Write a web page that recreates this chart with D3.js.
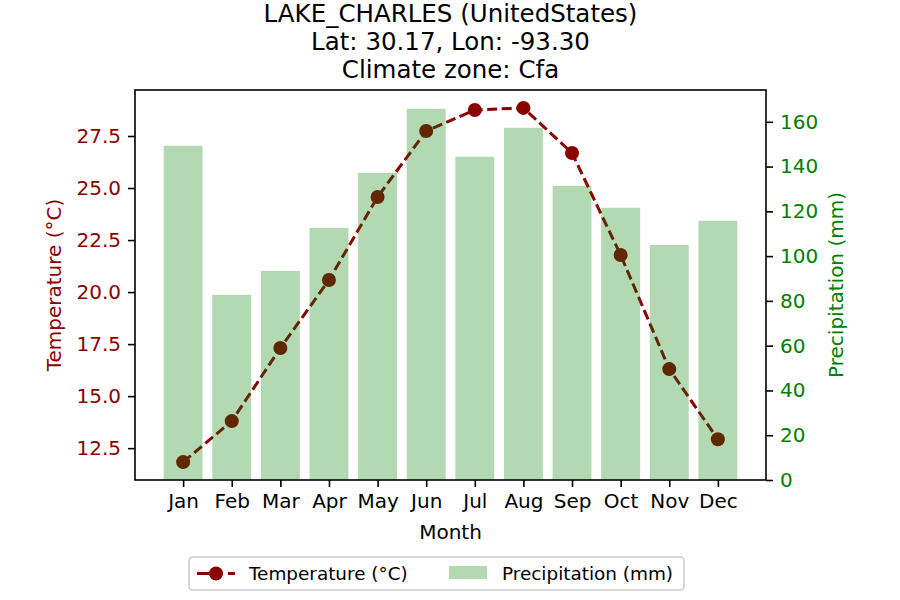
<!DOCTYPE html>
<html>
<head>
<meta charset="utf-8">
<script src="https://cdn.jsdelivr.net/npm/d3@7"></script>
<style>
  html, body { margin: 0; padding: 0; background: #fff; }
  svg { display: block; font-family: "DejaVu Sans", sans-serif; }
</style>
</head>
<body>
<svg id="chart" width="900" height="600"></svg>
<script>
const months = ["Jan","Feb","Mar","Apr","May","Jun","Jul","Aug","Sep","Oct","Nov","Dec"];
const temperature = [11.83, 13.80, 17.31, 20.58, 24.57, 27.74, 28.75, 28.85, 26.68, 21.78, 16.30, 12.93];
const precipitation = [149.3, 82.7, 93.4, 112.6, 137.2, 165.8, 144.4, 157.3, 131.4, 121.6, 105.0, 115.8];
const tempTicks = [12.5, 15.0, 17.5, 20.0, 22.5, 25.0, 27.5];
const precipTicks = [0, 20, 40, 60, 80, 100, 120, 140, 160];
const titleLines = ["LAKE_CHARLES (UnitedStates)", "Lat: 30.17, Lon: -93.30", "Climate zone: Cfa"];

const W = 900, H = 600;
const L = 135, R = 766, T = 90, B = 480;
const tempColor = "#8b0000", precColor = "#008000";

const svg = d3.select("#chart");

const x = d3.scaleLinear().domain([-0.99, 11.99]).range([L, R]);
const yT = d3.scaleLinear().domain([10.97, 29.71]).range([B, T]);
const yP = d3.scaleLinear().domain([0, 174.2]).range([B, T]);
const bw = x(0.8) - x(0);

// Temperature line (drawn first, bars overlay it)
const line = d3.line().x((d, i) => x(i)).y(d => yT(d));
svg.append("path")
  .attr("d", line(temperature))
  .attr("fill", "none")
  .attr("stroke", tempColor)
  .attr("stroke-width", 3)
  .attr("stroke-dasharray", "10,4.5");
svg.append("g").selectAll("circle").data(temperature).join("circle")
  .attr("cx", (d, i) => x(i))
  .attr("cy", d => yT(d))
  .attr("r", 7)
  .attr("fill", tempColor);

// Precipitation bars
svg.append("g").selectAll("rect").data(precipitation).join("rect")
  .attr("x", (d, i) => x(i) - bw / 2)
  .attr("y", d => yP(d))
  .attr("width", bw)
  .attr("height", d => yP(0) - yP(d))
  .attr("fill", precColor)
  .attr("fill-opacity", 0.3);

// Axes
const xAxis = d3.axisBottom(x).tickValues(d3.range(12)).tickFormat(i => months[i]).tickSize(7).tickPadding(7);
const gx = svg.append("g").attr("transform", `translate(0,${B})`).call(xAxis);
gx.select(".domain").remove();
gx.selectAll(".tick line").attr("stroke", "#000").attr("stroke-width", 1.6);
gx.selectAll("text").attr("font-size", 20).attr("fill", "#000").attr("font-family", "DejaVu Sans");

const yAxisL = d3.axisLeft(yT).tickValues(tempTicks).tickFormat(d3.format(".1f")).tickSize(7).tickPadding(7);
const gl = svg.append("g").attr("transform", `translate(${L},0)`).call(yAxisL);
gl.select(".domain").remove();
gl.selectAll(".tick line").attr("stroke", "#000").attr("stroke-width", 1.6);
gl.selectAll("text").attr("font-size", 20).attr("fill", tempColor).attr("font-family", "DejaVu Sans");

const yAxisR = d3.axisRight(yP).tickValues(precipTicks).tickFormat(d3.format("d")).tickSize(7).tickPadding(7);
const gr = svg.append("g").attr("transform", `translate(${R},0)`).call(yAxisR);
gr.select(".domain").remove();
gr.selectAll(".tick line").attr("stroke", "#000").attr("stroke-width", 1.6);
gr.selectAll("text").attr("font-size", 20).attr("fill", precColor).attr("font-family", "DejaVu Sans");

// Frame
svg.append("rect").attr("x", L).attr("y", T).attr("width", R - L).attr("height", B - T)
  .attr("fill", "none").attr("stroke", "#000").attr("stroke-width", 1.6);

// Axis labels
svg.append("text").attr("x", (L + R) / 2).attr("y", 539).attr("text-anchor", "middle")
  .attr("font-size", 20).attr("fill", "#000").text("Month");
svg.append("text").attr("transform", `translate(61,${(T + B) / 2}) rotate(-90)`)
  .attr("text-anchor", "middle").attr("font-size", 20).attr("fill", tempColor).text("Temperature (°C)");
svg.append("text").attr("transform", `translate(843,${(T + B) / 2}) rotate(-90)`)
  .attr("text-anchor", "middle").attr("font-size", 20).attr("fill", precColor).text("Precipitation (mm)");

// Title
svg.append("g").selectAll("text").data(titleLines).join("text")
  .attr("x", (L + R) / 2).attr("y", (d, i) => 22 + i * 28)
  .attr("text-anchor", "middle").attr("font-size", 24.5).attr("fill", "#000")
  .text(d => d);

// Legend
const lg = svg.append("g");
lg.append("rect").attr("x", 189).attr("y", 557).attr("width", 495).attr("height", 33)
  .attr("rx", 4).attr("fill", "#fff").attr("stroke", "#cccccc").attr("stroke-width", 1.6);
lg.append("line").attr("x1", 197).attr("x2", 235).attr("y1", 573.5).attr("y2", 573.5)
  .attr("stroke", tempColor).attr("stroke-width", 3).attr("stroke-dasharray", "26,5");
lg.append("circle").attr("cx", 216).attr("cy", 573.5).attr("r", 7).attr("fill", tempColor);
lg.append("text").attr("x", 249).attr("y", 580).attr("font-size", 18.4).attr("fill", "#000").text("Temperature (°C)");
lg.append("rect").attr("x", 449).attr("y", 566).attr("width", 38).attr("height", 13)
  .attr("fill", precColor).attr("fill-opacity", 0.3);
lg.append("text").attr("x", 502).attr("y", 580).attr("font-size", 18.4).attr("fill", "#000").text("Precipitation (mm)");
</script>
</body>
</html>
